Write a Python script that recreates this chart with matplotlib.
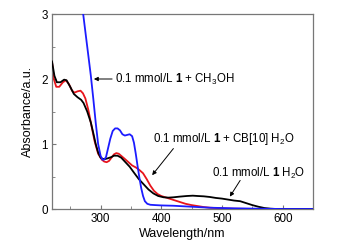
import matplotlib
matplotlib.use("Agg")
import matplotlib.pyplot as plt
from matplotlib.ticker import MultipleLocator

plt.rcParams['font.family'] = ['Liberation Sans', 'DejaVu Sans']
plt.rcParams['mathtext.fontset'] = 'custom'
plt.rcParams['mathtext.rm'] = 'Liberation Sans'
plt.rcParams['mathtext.it'] = 'Liberation Sans:italic'
plt.rcParams['mathtext.bf'] = 'Liberation Sans:bold'

# Black: 0.1 mmol/L 1 in H2O
wl_black = [220, 224, 228, 234, 240, 244, 250, 256, 262, 268, 272, 278, 284, 288, 292, 296, 300, 304, 308,
            312, 318, 322, 328, 334, 340, 348, 355, 363, 371, 379, 387, 395, 404, 412, 420, 430, 442, 452,
            460, 470, 480, 490, 500, 510, 520, 530, 540, 550, 560, 570, 580, 590, 600, 650]
ab_black = [2.27, 2.05, 1.95, 1.95, 1.99, 1.98, 1.88, 1.77, 1.72, 1.68, 1.63, 1.50, 1.33, 1.17, 1.00, 0.87, 0.79, 0.77, 0.77,
            0.78, 0.80, 0.82, 0.82, 0.79, 0.73, 0.65, 0.56, 0.46, 0.38, 0.30, 0.24, 0.20, 0.18, 0.175, 0.18, 0.19, 0.20, 0.205,
            0.20, 0.195, 0.185, 0.17, 0.16, 0.145, 0.13, 0.12, 0.09, 0.06, 0.035, 0.015, 0.005, 0.0, 0.0, 0.0]

# Red: 0.1 mmol/L 1 + CB[10] in H2O
wl_red = [220, 223, 227, 232, 238, 243, 248, 253, 257, 262, 267, 271, 275, 280, 285, 290, 296, 302, 306,
          310, 314, 318, 322, 326, 330, 335, 340, 346, 352, 358, 364, 370, 376, 382, 388, 394, 400, 410,
          420, 430, 440, 450, 460, 470, 480, 490, 500, 520, 540, 560, 600, 650]
ab_red = [2.27, 2.0, 1.88, 1.88, 1.95, 1.98, 1.92, 1.82, 1.79, 1.81, 1.82, 1.78, 1.70, 1.52, 1.28, 1.05, 0.85, 0.76, 0.73,
          0.72, 0.74, 0.79, 0.84, 0.86, 0.85, 0.81, 0.77, 0.72, 0.67, 0.64, 0.60, 0.55, 0.46, 0.36, 0.28, 0.23, 0.20, 0.17,
          0.14, 0.11, 0.08, 0.06, 0.045, 0.03, 0.02, 0.015, 0.01, 0.005, 0.002, 0.0, 0.0, 0.0]

# Blue: 0.1 mmol/L 1 + CH3OH
wl_blue = [271.5, 276, 280, 284, 288, 292, 296, 300, 303, 306, 309, 312, 316, 320, 324, 328, 332, 336,
           340, 344, 348, 352, 355, 358, 361, 364, 367, 370, 373, 377, 382, 390, 400, 420, 450, 480, 520,
           560, 600, 650]
ab_blue = [2.99, 2.65, 2.35, 2.05, 1.70, 1.33, 1.00, 0.82, 0.76, 0.76, 0.80, 0.92, 1.08, 1.20, 1.24, 1.24, 1.21, 1.15,
           1.13, 1.14, 1.15, 1.12, 1.02, 0.85, 0.66, 0.48, 0.32, 0.20, 0.12, 0.08, 0.065, 0.06, 0.055, 0.05, 0.035, 0.02,
           0.01, 0.005, 0.0, 0.0]

fig = plt.figure(figsize=(3.41, 2.49), dpi=100)
ax = fig.add_axes([52/341, 1 - 209/249, (313 - 52)/341, (209 - 14)/249])

ax.plot(wl_black, ab_black, color='black', lw=1.3, zorder=3)
ax.plot(wl_red, ab_red, color='#e8141b', lw=1.3, zorder=2)
ax.plot(wl_blue, ab_blue, color='#1c1cff', lw=1.3, zorder=4)

ax.set_xlim(220, 650)
ax.set_ylim(0, 3)
ax.xaxis.set_major_locator(MultipleLocator(100))
ax.xaxis.set_minor_locator(MultipleLocator(50))
ax.yaxis.set_major_locator(MultipleLocator(1))
ax.yaxis.set_minor_locator(MultipleLocator(0.5))
ax.tick_params(which='both', direction='in', labelsize=8.4, color='#777777', pad=3)
ax.tick_params(which='major', length=3)
ax.tick_params(which='minor', length=2)
for s in ax.spines.values():
    s.set_color('#777777')
    s.set_linewidth(0.9)

ax.set_xlabel('Wavelength/nm', fontsize=9, labelpad=2)
ax.set_ylabel('Absorbance/a.u.', fontsize=9, labelpad=5)

ap = dict(arrowstyle='-|>', color='black', lw=0.7, mutation_scale=6, shrinkA=0, shrinkB=0)

ax.text(323, 2.0, r'0.1 mmol/L $\mathbf{1}$ + CH$_3$OH', fontsize=8.3, va='center', ha='left')
ax.annotate('', xy=(289, 2.0), xytext=(319, 2.0), arrowprops=ap)

ax.text(387, 1.07, r'0.1 mmol/L $\mathbf{1}$ + CB[10] H$_2$O', fontsize=8.3, va='center', ha='left')
ax.annotate('', xy=(385, 0.52), xytext=(420, 0.93), arrowprops=ap)

ax.text(484, 0.55, r'0.1 mmol/L $\mathbf{1}$ H$_2$O', fontsize=8.3, va='center', ha='left')
ax.annotate('', xy=(513, 0.19), xytext=(530, 0.44), arrowprops=ap)

fig.savefig('out.png', dpi=100)
